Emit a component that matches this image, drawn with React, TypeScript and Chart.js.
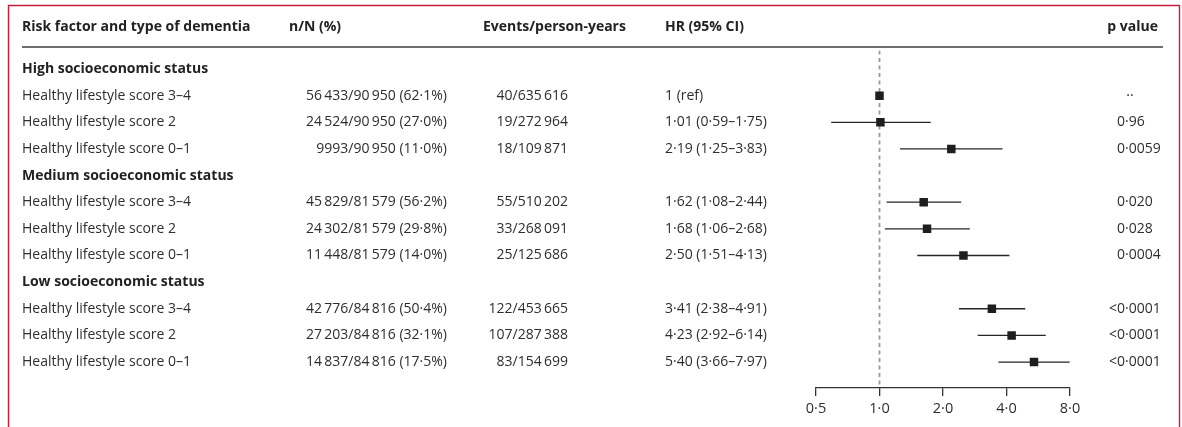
import React, { useEffect, useRef } from "react";
import { Chart, registerables } from "chart.js";

Chart.register(...registerables);

// ---- data ----
const columnHeaders = [
  "Risk factor and type of dementia",
  "n/N (%)",
  "Events/person-years",
  "HR (95% CI)",
  "p value",
];

const rowLabels = [
  "High socioeconomic status",
  "Healthy lifestyle score 3–4",
  "Healthy lifestyle score 2",
  "Healthy lifestyle score 0–1",
  "Medium socioeconomic status",
  "Healthy lifestyle score 3–4",
  "Healthy lifestyle score 2",
  "Healthy lifestyle score 0–1",
  "Low socioeconomic status",
  "Healthy lifestyle score 3–4",
  "Healthy lifestyle score 2",
  "Healthy lifestyle score 0–1",
];
const headerRows = [0, 4, 8];
const dataRows = [1, 2, 3, 5, 6, 7, 9, 10, 11];

const nN = [
  "56\u2009433/90\u2009950 (62·1%)",
  "24\u2009524/90\u2009950 (27·0%)",
  "9993/90\u2009950 (11·0%)",
  "45\u2009829/81\u2009579 (56·2%)",
  "24\u2009302/81\u2009579 (29·8%)",
  "11\u2009448/81\u2009579 (14·0%)",
  "42\u2009776/84\u2009816 (50·4%)",
  "27\u2009203/84\u2009816 (32·1%)",
  "14\u2009837/84\u2009816 (17·5%)",
];
const events = [
  "40/635\u2009616",
  "19/272\u2009964",
  "18/109\u2009871",
  "55/510\u2009202",
  "33/268\u2009091",
  "25/125\u2009686",
  "122/453\u2009665",
  "107/287\u2009388",
  "83/154\u2009699",
];
const hr = [1, 1.01, 2.19, 1.62, 1.68, 2.5, 3.41, 4.23, 5.4];
const ciLow: (number | null)[] = [null, 0.59, 1.25, 1.08, 1.06, 1.51, 2.38, 2.92, 3.66];
const ciHigh: (number | null)[] = [null, 1.75, 3.83, 2.44, 2.68, 4.13, 4.91, 6.14, 7.97];
const pValues = ["··", "0·96", "0·0059", "0·020", "0·028", "0·0004", "<0·0001", "<0·0001", "<0·0001"];
const xTicks = [0.5, 1, 2, 4, 8];

// ---- style ----
const FONT = '"Open Sans", "DejaVu Sans", sans-serif';
const TEXT = "#2e2e2e";
const Y_MIN = -0.7;
const Y_MAX = 11.975;

const dot = (v: number, d: number) => v.toFixed(d).replace(".", "·");
const hrText = (k: number) =>
  ciLow[k] == null
    ? `${hr[k]} (ref)`
    : `${dot(hr[k], 2)} (${dot(ciLow[k] as number, 2)}–${dot(ciHigh[k] as number, 2)})`;

const tablePlugin = {
  id: "tableText",
  afterDraw(chart: any) {
    const ctx = chart.ctx as CanvasRenderingContext2D;
    const ys = chart.scales.y;
    ctx.save();
    // frame
    ctx.strokeStyle = "#c41f3e";
    ctx.lineWidth = 1.4;
    ctx.beginPath();
    ctx.moveTo(8.5, 440);
    ctx.lineTo(8.5, 5.5);
    ctx.lineTo(1179.5, 5.5);
    ctx.lineTo(1179.5, 440);
    ctx.stroke();
    // header rule
    ctx.strokeStyle = "#6d6e70";
    ctx.lineWidth = 2;
    ctx.beginPath();
    ctx.moveTo(22, 47);
    ctx.lineTo(1163, 47);
    ctx.stroke();

    ctx.textBaseline = "middle";
    ctx.fillStyle = "#222222";
    ctx.font = `700 14px ${FONT}`;
    ctx.textAlign = "left";
    ctx.fillText(columnHeaders[0], 22, 27);
    ctx.fillText(columnHeaders[1], 289, 27);
    ctx.fillText(columnHeaders[2], 483, 27);
    ctx.fillText(columnHeaders[3], 665, 27);
    ctx.textAlign = "right";
    ctx.fillText(columnHeaders[4], 1158, 27);

    rowLabels.forEach((label, i) => {
      const py = ys.getPixelForValue(i);
      const isHead = headerRows.includes(i);
      ctx.font = `${isHead ? "700" : "400"} 14px ${FONT}`;
      ctx.fillStyle = isHead ? "#222222" : TEXT;
      ctx.textAlign = "left";
      ctx.fillText(label, 22, py);
    });

    ctx.font = `400 14px ${FONT}`;
    ctx.fillStyle = TEXT;
    dataRows.forEach((r, k) => {
      const py = ys.getPixelForValue(r);
      ctx.textAlign = "right";
      ctx.fillText(nN[k], 447, py);
      ctx.fillText(events[k], 568, py);
      ctx.textAlign = "left";
      ctx.fillText(hrText(k), 665, py);
      const p = pValues[k];
      if (p.startsWith("<")) {
        ctx.textAlign = "right";
        ctx.fillText("<", 1117, py);
        ctx.textAlign = "left";
        ctx.fillText(p.slice(1), 1117, py);
      } else if (p === "··") {
        ctx.textAlign = "center";
        ctx.fillText(p, 1130, py);
      } else {
        ctx.textAlign = "left";
        ctx.fillText(p, 1117, py);
      }
    });
    ctx.restore();
  },
};

export default function App() {
  const ref = useRef<HTMLCanvasElement>(null);
  useEffect(() => {
    const markerData = dataRows.map((r, k) => ({ x: hr[k], y: r }));
    const ciData: any[] = [];
    dataRows.forEach((r, k) => {
      if (ciLow[k] == null) return;
      ciData.push({ x: ciLow[k], y: r }, { x: ciHigh[k], y: r }, { x: 1, y: null });
    });
    const chart = new Chart(ref.current as HTMLCanvasElement, {
      type: "scatter",
      data: {
        datasets: [
          {
            type: "scatter",
            data: markerData,
            pointStyle: "rect",
            pointRadius: 6,
            pointHoverRadius: 6,
            backgroundColor: "#1e1e1e",
            borderWidth: 0,
          } as any,
          {
            type: "line",
            data: ciData,
            borderColor: "#262626",
            borderWidth: 1.3,
            pointRadius: 0,
            spanGaps: false,
            fill: false,
            tension: 0,
          } as any,
          {
            type: "line",
            data: [
              { x: 1, y: Y_MIN },
              { x: 1, y: Y_MAX },
            ],
            borderColor: "#8a9fae",
            borderWidth: 1.8,
            borderDash: [4, 3.5],
            pointRadius: 0,
            fill: false,
          } as any,
        ],
      },
      options: {
        animation: false,
        responsive: false,
        devicePixelRatio: 1,
        layout: { padding: { left: 816, right: 112, top: 50.4, bottom: 0 } },
        plugins: { legend: { display: false }, tooltip: { enabled: false } },
        events: [],
        scales: {
          x: {
            type: "logarithmic",
            min: 0.5,
            max: 8,
            afterBuildTicks: (s: any) => {
              s.ticks = xTicks.map((v) => ({ value: v }));
            },
            afterFit: (s: any) => {
              s.height = 39;
            },
            ticks: {
              autoSkip: false,
              maxRotation: 0,
              padding: 4,
              color: TEXT,
              font: { family: FONT, size: 14.5 },
              callback: (v: any) => dot(Number(v), 1),
            },
            grid: {
              drawOnChartArea: false,
              drawTicks: true,
              tickLength: 8,
              color: "#333333",
              lineWidth: 1.3,
            },
            border: { display: true, color: "#333333", width: 1.3 },
          },
          y: {
            type: "linear",
            display: false,
            reverse: true,
            min: Y_MIN,
            max: Y_MAX,
          },
        },
      } as any,
      plugins: [tablePlugin],
    });
    return () => chart.destroy();
  }, []);
  return (
    <div
      style={{
        position: "fixed",
        left: 0,
        top: 0,
        width: 1182,
        height: 427,
        background: "#ffffff",
      }}
    >
      <canvas
        ref={ref}
        width={1182}
        height={427}
        style={{ display: "block", width: 1182, height: 427 }}
      />
    </div>
  );
}
